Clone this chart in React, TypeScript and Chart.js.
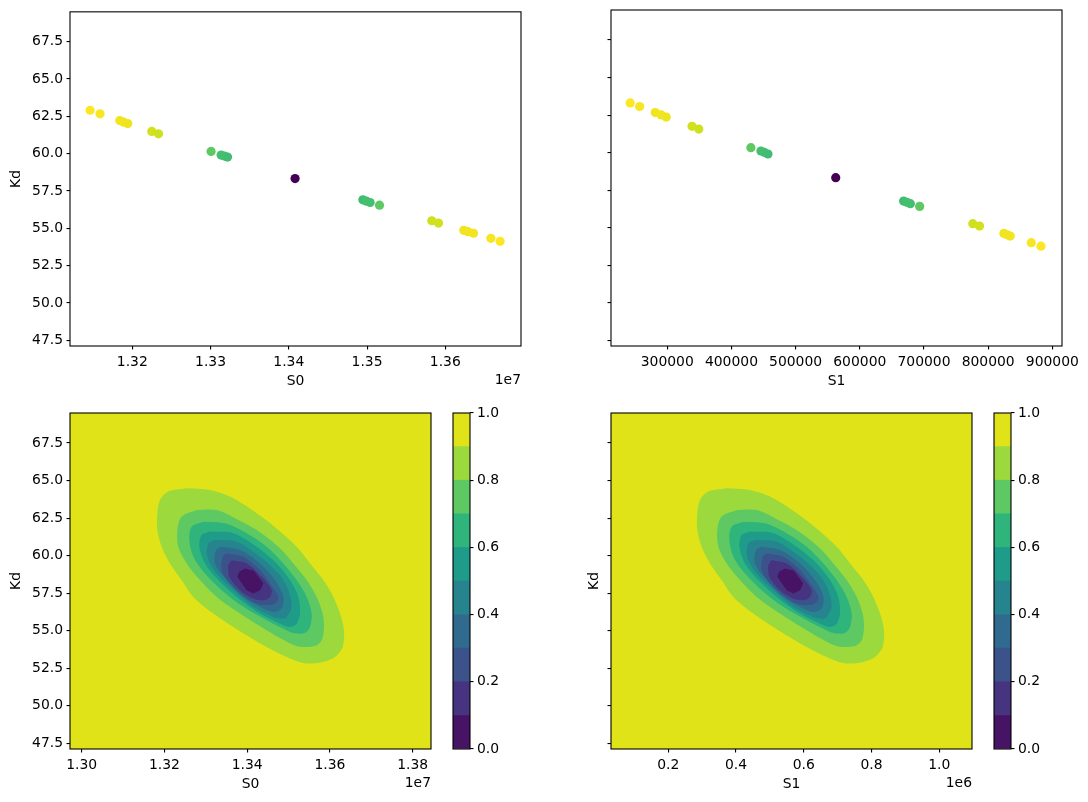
import React, { useEffect, useRef } from "react";
import { Chart, registerables } from "chart.js";

Chart.register(...registerables);

// ---------------- data ----------------
const KD_RANGE = [47.12, 69.5];
const KD_TICKS = [47.5, 50.0, 52.5, 55.0, 57.5, 60.0, 62.5, 65.0, 67.5];

const S0_RANGE_TOP = [13120400, 13696700];
const S0_TICKS_TOP = [13200000, 13300000, 13400000, 13500000, 13600000];
const S1_RANGE_TOP = [212300, 915100];
const S1_TICKS_TOP = [300000, 400000, 500000, 600000, 700000, 800000, 900000];

const S0_RANGE_GRID = [12971700, 13844200];
const S0_TICKS_GRID = [13000000, 13200000, 13400000, 13600000, 13800000];
const S1_RANGE_GRID = [30900, 1096500];
const S1_TICKS_GRID = [200000, 400000, 600000, 800000, 1000000];

const CB_LEVELS = [0, 0.1, 0.2, 0.3, 0.4, 0.5, 0.6, 0.7, 0.8, 0.9, 1.0];
const CB_TICKS = [0, 0.2, 0.4, 0.6, 0.8, 1.0];

const SCATTER_S0 = [13146100, 13158800, 13184000, 13189100, 13194200, 13224900, 13233500, 13300700, 13313500, 13317800, 13321700, 13408000, 13494600, 13499300, 13503900, 13515900, 13582700, 13591300, 13623600, 13628800, 13636000, 13658200, 13670000];
const SCATTER_S0_KD = [62.91, 62.67, 62.22, 62.11, 62.02, 61.49, 61.33, 60.15, 59.91, 59.84, 59.77, 58.33, 56.91, 56.82, 56.73, 56.55, 55.51, 55.35, 54.87, 54.78, 54.67, 54.33, 54.13];
const SCATTER_S1 = [242200, 256900, 281300, 290600, 298400, 338600, 349100, 430300, 445900, 451100, 456900, 562500, 668300, 673400, 678800, 693300, 776100, 786600, 824500, 829700, 834400, 867200, 882300];
const SCATTER_S1_KD = [63.31, 63.07, 62.67, 62.51, 62.37, 61.75, 61.57, 60.33, 60.11, 60.02, 59.91, 58.33, 56.77, 56.69, 56.6, 56.42, 55.27, 55.11, 54.62, 54.53, 54.44, 54.0, 53.77];
const SCATTER_VALUE = [1.0, 0.99, 0.98, 0.98, 0.975, 0.93, 0.925, 0.75, 0.7, 0.7, 0.69, 0.0, 0.69, 0.7, 0.7, 0.75, 0.925, 0.93, 0.975, 0.98, 0.98, 0.99, 1.0];

// contour boundaries (region below each level), outer to inner
const CONTOUR_BOUNDS = [0.9, 0.8, 0.7, 0.6, 0.5, 0.4, 0.3, 0.2, 0.1];

const S0_CONTOURS: number[][][] = [
  [[13253700, 64.49], [13306100, 64.38], [13358400, 63.93], [13422900, 62.82], [13475200, 61.71], [13519500, 60.59], [13551800, 59.48], [13584000, 58.37], [13608200, 57.25], [13624300, 56.14], [13633900, 55.03], [13630700, 53.91], [13612200, 53.25], [13575900, 52.87], [13535600, 52.85], [13495400, 53.25], [13447000, 53.91], [13378600, 55.03], [13318100, 56.14], [13269800, 57.25], [13241600, 58.37], [13213400, 59.48], [13193300, 60.59], [13182800, 61.71], [13182800, 62.82], [13189200, 63.71], [13209400, 64.27]],
  [[13277900, 63.04], [13326200, 63.04], [13378600, 62.38], [13422900, 61.71], [13475200, 60.59], [13511500, 59.48], [13543700, 58.37], [13567900, 57.25], [13582400, 56.14], [13585600, 55.25], [13580000, 54.36], [13563800, 53.98], [13519500, 53.98], [13447000, 55.03], [13382600, 56.14], [13326200, 57.25], [13285900, 58.37], [13253700, 59.48], [13233500, 60.59], [13231100, 61.71], [13241600, 62.6]],
  [[13294000, 62.26], [13346300, 62.15], [13398700, 61.49], [13447000, 60.59], [13487300, 59.48], [13519500, 58.37], [13543700, 57.25], [13555800, 56.14], [13551800, 55.25], [13539700, 54.85], [13519500, 54.81], [13503400, 54.92], [13447000, 55.7], [13390600, 56.59], [13338300, 57.7], [13298000, 58.81], [13269800, 59.93], [13260100, 61.04], [13265800, 61.93]],
  [[13310100, 61.6], [13366500, 61.49], [13422900, 60.59], [13471200, 59.48], [13503400, 58.37], [13523600, 57.25], [13527600, 56.14], [13519500, 55.47], [13503400, 55.25], [13479300, 55.47], [13430900, 56.14], [13374500, 57.25], [13330200, 58.37], [13298000, 59.48], [13284300, 60.59], [13289900, 61.37]],
  [[13322200, 61.04], [13374500, 60.93], [13430900, 59.93], [13475200, 58.81], [13499400, 57.7], [13507500, 56.59], [13495400, 55.92], [13487300, 55.81], [13463100, 55.92], [13414800, 56.59], [13366500, 57.7], [13326200, 58.81], [13303600, 59.93], [13306100, 60.82]],
  [[13338300, 60.59], [13382600, 60.37], [13430900, 59.48], [13467200, 58.37], [13487300, 57.25], [13483300, 56.48], [13463100, 56.25], [13439000, 56.48], [13390600, 57.25], [13350400, 58.37], [13322200, 59.48], [13324600, 60.37]],
  [[13350400, 60.15], [13390600, 59.93], [13430900, 59.04], [13455100, 58.15], [13475200, 57.25], [13467200, 56.81], [13447000, 56.7], [13422900, 56.81], [13394700, 57.25], [13358400, 58.15], [13338300, 59.04], [13340700, 59.93]],
  [[13362400, 59.7], [13398700, 59.48], [13434900, 58.59], [13459100, 57.7], [13455100, 57.25], [13439000, 57.03], [13414800, 57.14], [13382600, 57.7], [13356800, 58.59], [13354400, 59.37]],
  [[13394700, 59.15], [13416400, 58.99], [13439000, 58.15], [13430900, 57.7], [13414800, 57.48], [13398700, 57.7], [13376100, 58.59], [13381000, 58.92]],
];

const S1_CONTOURS: number[][][] = [
  [[372300, 64.49], [436300, 64.38], [500200, 63.93], [578900, 62.82], [642900, 61.71], [697000, 60.59], [736400, 59.48], [775700, 58.37], [805300, 57.25], [824900, 56.14], [836700, 55.03], [832800, 53.91], [810200, 53.25], [765900, 52.87], [716700, 52.85], [667500, 53.25], [608500, 53.91], [524800, 55.03], [451000, 56.14], [392000, 57.25], [357500, 58.37], [323100, 59.48], [298500, 60.59], [285700, 61.71], [285700, 62.82], [293600, 63.71], [318200, 64.27]],
  [[401800, 63.04], [460900, 63.04], [524800, 62.38], [578900, 61.71], [642900, 60.59], [687200, 59.48], [726500, 58.37], [756100, 57.25], [773800, 56.14], [777700, 55.25], [770800, 54.36], [751100, 53.98], [697000, 53.98], [608500, 55.03], [529700, 56.14], [460900, 57.25], [411700, 58.37], [372300, 59.48], [347700, 60.59], [344700, 61.71], [357500, 62.6]],
  [[421500, 62.26], [485500, 62.15], [549400, 61.49], [608500, 60.59], [657700, 59.48], [697000, 58.37], [726500, 57.25], [741300, 56.14], [736400, 55.25], [721600, 54.85], [697000, 54.81], [677300, 54.92], [608500, 55.7], [539600, 56.59], [475600, 57.7], [426400, 58.81], [392000, 59.93], [380200, 61.04], [387100, 61.93]],
  [[441200, 61.6], [510100, 61.49], [578900, 60.59], [638000, 59.48], [677300, 58.37], [701900, 57.25], [706900, 56.14], [697000, 55.47], [677300, 55.25], [647800, 55.47], [588800, 56.14], [519900, 57.25], [465800, 58.37], [426400, 59.48], [409700, 60.59], [416600, 61.37]],
  [[455900, 61.04], [519900, 60.93], [588800, 59.93], [642900, 58.81], [672400, 57.7], [682300, 56.59], [667500, 55.92], [657700, 55.81], [628100, 55.92], [569100, 56.59], [510100, 57.7], [460900, 58.81], [433300, 59.93], [436300, 60.82]],
  [[475600, 60.59], [529700, 60.37], [588800, 59.48], [633100, 58.37], [657700, 57.25], [652700, 56.48], [628100, 56.25], [598600, 56.48], [539600, 57.25], [490400, 58.37], [455900, 59.48], [458900, 60.37]],
  [[490400, 60.15], [539600, 59.93], [588800, 59.04], [618300, 58.15], [642900, 57.25], [633100, 56.81], [608500, 56.7], [578900, 56.81], [544500, 57.25], [500200, 58.15], [475600, 59.04], [478600, 59.93]],
  [[505100, 59.7], [549400, 59.48], [593700, 58.59], [623200, 57.7], [618300, 57.25], [598600, 57.03], [569100, 57.14], [529700, 57.7], [498300, 58.59], [495300, 59.37]],
  [[544500, 59.15], [571100, 58.99], [598600, 58.15], [588800, 57.7], [569100, 57.48], [549400, 57.7], [521900, 58.59], [527800, 58.92]],
];

// ---------------- style ----------------
const VIRIDIS_STOPS = [
  "#440154", "#471365", "#482475", "#463480", "#414487", "#3b528b", "#355f8d",
  "#306a8e", "#2a788e", "#25848e", "#21918c", "#1e9c89", "#22a884", "#2fb47c",
  "#44bf70", "#5ec962", "#7ad151", "#9bd93c", "#bddf26", "#dfe318", "#fde725",
];

function hexToRgb(h: string): number[] {
  return [parseInt(h.slice(1, 3), 16), parseInt(h.slice(3, 5), 16), parseInt(h.slice(5, 7), 16)];
}

function viridis(t: number): string {
  const n = VIRIDIS_STOPS.length - 1;
  const c = Math.min(1, Math.max(0, t)) * n;
  const i = Math.min(Math.floor(c), n - 1);
  const f = c - i;
  const a = hexToRgb(VIRIDIS_STOPS[i]);
  const b = hexToRgb(VIRIDIS_STOPS[i + 1]);
  const m = a.map((v, k) => Math.round(v + (b[k] - v) * f));
  return `rgb(${m[0]},${m[1]},${m[2]})`;
}

const FONT = { family: "'DejaVu Sans', sans-serif", size: 13.9 };
const INK = "#000000";

const GRID = {
  drawOnChartArea: false,
  drawTicks: true,
  tickLength: 3.5,
  color: INK,
  lineWidth: 1.1,
};

function makeFrame(offsetText?: string) {
  return {
    id: "frame",
    afterDraw(chart: any) {
      const { ctx, chartArea: a } = chart;
      ctx.save();
      ctx.strokeStyle = INK;
      ctx.lineWidth = 1.1;
      ctx.strokeRect(a.left, a.top, a.right - a.left, a.bottom - a.top);
      if (offsetText) {
        ctx.fillStyle = INK;
        ctx.font = `${FONT.size}px ${FONT.family}`;
        ctx.textAlign = "right";
        ctx.textBaseline = "middle";
        ctx.fillText(offsetText, a.right, a.bottom + 34);
      }
      ctx.restore();
    },
  };
}

function xAxis(range: number[], ticks: number[], fmt: (v: number) => string, title: string) {
  return {
    type: "linear",
    position: "bottom",
    min: range[0],
    max: range[1],
    afterBuildTicks: (s: any) => {
      s.ticks = ticks.map((v) => ({ value: v }));
    },
    afterFit: (s: any) => {
      s.height = 45;
    },
    grid: GRID,
    border: { display: false },
    ticks: {
      font: FONT,
      color: INK,
      padding: 4.2,
      autoSkip: false,
      maxRotation: 0,
      callback: (v: any) => fmt(Number(v)),
    },
    title: { display: true, text: title, font: FONT, color: INK, padding: { top: 0, bottom: 1.7 } },
  };
}

function yAxis(width: number, showLabels: boolean, title: string, titlePad: number) {
  return {
    type: "linear",
    position: "left",
    min: KD_RANGE[0],
    max: KD_RANGE[1],
    afterBuildTicks: (s: any) => {
      s.ticks = KD_TICKS.map((v) => ({ value: v }));
    },
    afterFit: (s: any) => {
      s.width = width;
    },
    grid: GRID,
    border: { display: false },
    ticks: {
      display: showLabels,
      font: FONT,
      color: INK,
      padding: 3.5,
      autoSkip: false,
      callback: (v: any) => Number(v).toFixed(1),
    },
    title: { display: !!title, text: title, font: FONT, color: INK, padding: { top: titlePad, bottom: 0 } },
  };
}

function baseOptions(padding: any, scales: any) {
  return {
    responsive: false,
    animation: false,
    events: [],
    layout: { padding },
    plugins: { legend: { display: false }, tooltip: { enabled: false } },
    scales,
  };
}

function scatterConfig(xs: number[], ys: number[], xRange: number[], xTicks: number[], fmt: (v: number) => string, xTitle: string, yW: number, yLabels: boolean, yTitle: string, yPad: number, padding: any, offset?: string) {
  const colors = SCATTER_VALUE.map(viridis);
  return {
    type: "scatter",
    data: {
      datasets: [
        {
          data: xs.map((x, i) => ({ x, y: ys[i] })),
          pointRadius: 4.6,
          pointBorderWidth: 0,
          pointBackgroundColor: colors,
          pointBorderColor: colors,
        },
      ],
    },
    options: baseOptions(padding, {
      x: xAxis(xRange, xTicks, fmt, xTitle),
      y: yAxis(yW, yLabels, yTitle, yPad),
    }),
    plugins: [makeFrame(offset)],
  };
}

function contourConfig(contours: number[][][], xRange: number[], xTicks: number[], fmt: (v: number) => string, xTitle: string, yW: number, yLabels: boolean, yTitle: string, yPad: number, padding: any, offset: string) {
  const half = (CB_LEVELS[1] - CB_LEVELS[0]) / 2;
  const background = [
    [xRange[0], KD_RANGE[0]],
    [xRange[1], KD_RANGE[0]],
    [xRange[1], KD_RANGE[1]],
    [xRange[0], KD_RANGE[1]],
  ];
  const shapes = [
    { level: CB_LEVELS[CB_LEVELS.length - 1], pts: background, tension: 0 },
    ...contours.map((pts, i) => ({ level: CONTOUR_BOUNDS[i], pts, tension: i === contours.length - 1 ? 0 : 0.3 })),
  ];
  const datasets = shapes.map((s, i) => {
    const color = viridis(s.level - half);
    const closed = [...s.pts, s.pts[0]];
    return {
      data: closed.map(([x, y]) => ({ x, y })),
      showLine: true,
      fill: "shape",
      backgroundColor: color,
      borderColor: color,
      borderWidth: 0,
      pointRadius: 0,
      pointHoverRadius: 0,
      tension: s.tension,
      order: shapes.length - i,
    };
  });
  return {
    type: "scatter",
    data: { datasets },
    options: baseOptions(padding, {
      x: xAxis(xRange, xTicks, fmt, xTitle),
      y: yAxis(yW, yLabels, yTitle, yPad),
    }),
    plugins: [makeFrame(offset)],
  };
}

function colorbarConfig(padding: any) {
  const datasets = CB_LEVELS.slice(0, -1).map((lo, i) => ({
    data: [[lo, CB_LEVELS[i + 1]]],
    backgroundColor: viridis((lo + CB_LEVELS[i + 1]) / 2),
    borderWidth: 0,
    barPercentage: 1,
    categoryPercentage: 1,
    grouped: false,
  }));
  return {
    type: "bar",
    data: { labels: [""], datasets },
    options: baseOptions(padding, {
      x: { display: false },
      y: {
        type: "linear",
        position: "right",
        min: 0,
        max: 1,
        afterBuildTicks: (s: any) => {
          s.ticks = CB_TICKS.map((v) => ({ value: v }));
        },
        afterFit: (s: any) => {
          s.width = 40;
        },
        grid: GRID,
        border: { display: false },
        ticks: { font: FONT, color: INK, padding: 3.5, autoSkip: false, callback: (v: any) => Number(v).toFixed(1) },
      },
    }),
    plugins: [makeFrame()],
  };
}

const fmtE7 = (v: number) => (v / 1e7).toFixed(2);
const fmtE6 = (v: number) => (v / 1e6).toFixed(1);
const fmtPlain = (v: number) => String(Math.round(v));

const PANELS = [
  { x: 0, y: 0, w: 580, h: 400 },
  { x: 560, y: 0, w: 528, h: 400 },
  { x: 0, y: 400, w: 440, h: 402 },
  { x: 445, y: 400, w: 70, h: 402 },
  { x: 560, y: 400, w: 420, h: 402 },
  { x: 986, y: 400, w: 102, h: 402 },
];

export default function App() {
  const r0 = useRef<HTMLCanvasElement>(null);
  const r1 = useRef<HTMLCanvasElement>(null);
  const r2 = useRef<HTMLCanvasElement>(null);
  const r3 = useRef<HTMLCanvasElement>(null);
  const r4 = useRef<HTMLCanvasElement>(null);
  const r5 = useRef<HTMLCanvasElement>(null);
  const refs = [r0, r1, r2, r3, r4, r5];

  useEffect(() => {
    const configs: any[] = [
      scatterConfig(SCATTER_S0, SCATTER_S0_KD, S0_RANGE_TOP, S0_TICKS_TOP, fmtE7, "S0", 70, true, "Kd", 8.4, { left: 0, top: 10, right: 59, bottom: 9 }, "1e7"),
      scatterConfig(SCATTER_S1, SCATTER_S1_KD, S1_RANGE_TOP, S1_TICKS_TOP, fmtPlain, "S1", 51, false, "", 0, { left: 0, top: 10, right: 26, bottom: 9 }),
      contourConfig(S0_CONTOURS, S0_RANGE_GRID, S0_TICKS_GRID, fmtE7, "S0", 70, true, "Kd", 8.4, { left: 0, top: 13, right: 9, bottom: 8 }, "1e7"),
      colorbarConfig({ left: 8, top: 13, right: 5, bottom: 53 }),
      contourConfig(S1_CONTOURS, S1_RANGE_GRID, S1_TICKS_GRID, fmtE6, "S1", 51, false, "Kd", 25.7, { left: 0, top: 13, right: 8, bottom: 8 }, "1e6"),
      colorbarConfig({ left: 8, top: 13, right: 37, bottom: 53 }),
    ];
    const charts = configs.map((cfg, i) => new Chart(refs[i].current as HTMLCanvasElement, cfg));
    return () => charts.forEach((c) => c.destroy());
  }, []);

  return (
    <div style={{ position: "absolute", left: 0, top: 0, width: 1088, height: 802, background: "#ffffff" }}>
      {PANELS.map((p, i) => (
        <canvas
          key={i}
          ref={refs[i]}
          width={p.w}
          height={p.h}
          style={{ position: "absolute", left: p.x, top: p.y, width: p.w, height: p.h }}
        />
      ))}
    </div>
  );
}
